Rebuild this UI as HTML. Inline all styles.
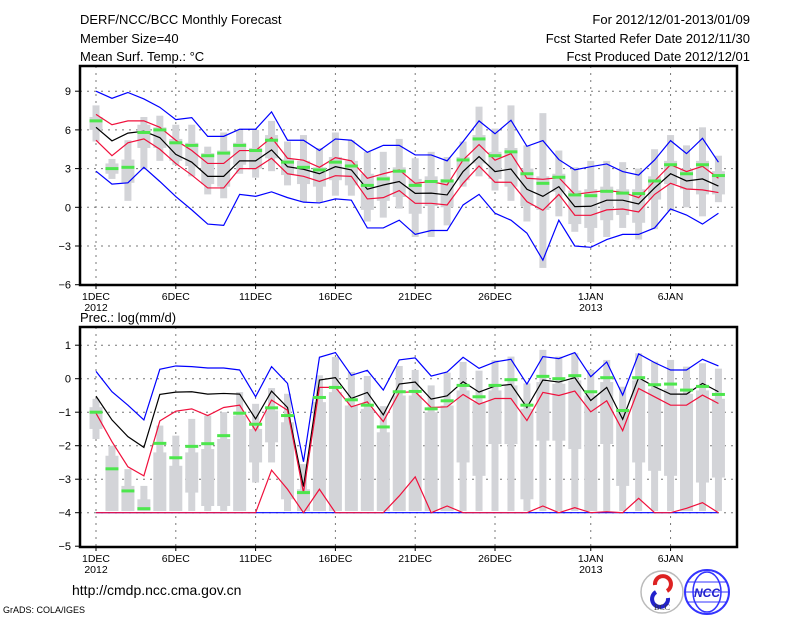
<!DOCTYPE html>
<html><head><meta charset="utf-8">
<style>
html,body{margin:0;padding:0;background:#fff;}
svg{display:block;font-family:"Liberation Sans",sans-serif;}
</style></head>
<body>
<svg id="chart" width="800" height="618" viewBox="0 0 800 618" xmlns="http://www.w3.org/2000/svg">
<rect width="800" height="618" fill="#fff"/>
<g font-size="13" fill="#000">
<text x="80" y="24">DERF/NCC/BCC Monthly Forecast</text>
<text x="80" y="43">Member Size=40</text>
<text x="80" y="61">Mean Surf. Temp.: °C</text>
<text x="750" y="24" text-anchor="end">For 2012/12/01-2013/01/09</text>
<text x="750" y="43" text-anchor="end">Fcst Started Refer Date 2012/11/30</text>
<text x="750" y="61" text-anchor="end">Fcst Produced Date 2012/12/01</text>
<text x="80" y="322">Prec.: log(mm/d)</text>
<text x="72" y="595" font-size="14">http://cmdp.ncc.cma.gov.cn</text>
<text x="3" y="613" font-size="9">GrADS: COLA/IGES</text>
</g>
<g>
<circle cx="662" cy="592" r="21" fill="#fff" stroke="#bbb" stroke-width="1.5"/>
<path d="M655 585 a8 8 0 1 1 12 6" fill="none" stroke="#d22" stroke-width="4"/>
<path d="M668 598 a8 8 0 1 1 -12 -6" fill="none" stroke="#22c" stroke-width="4"/>
<text x="662" y="610" font-size="8" text-anchor="middle" fill="#333" font-family="Liberation Serif,serif">BCC</text>
</g>
<g>
<circle cx="707" cy="592" r="22" fill="#fff" stroke="#33f" stroke-width="2"/>
<ellipse cx="707" cy="592" rx="14" ry="20" fill="none" stroke="#33f" stroke-width="1.5"/>
<line x1="686" y1="592" x2="728" y2="592" stroke="#33f"/>
<line x1="688" y1="582" x2="726" y2="582" stroke="#33f"/>
<line x1="688" y1="602" x2="726" y2="602" stroke="#33f"/>
<text x="707" y="597" font-size="12" font-weight="bold" text-anchor="middle" fill="#22c" font-style="italic">NCC</text>
</g>
<g id="plots"></g>
</svg>
<script>
// ---- Data: days Dec 1 2012 .. Jan 9 2013 ----
const days = [];
for (let i = 0; i < 40; i++) days.push(i);
const xTickDays = [0,5,10,15,20,25,31,36];
const xTickLabels = ["1DEC","6DEC","11DEC","16DEC","21DEC","26DEC","1JAN","6JAN"];
const xTickYears = ["2012","","","","","","2013",""];

// Temperature panel
const tTicks = [9,6,3,0,-3,-6];
const tBlueTop = [9.0,8.45,8.9,8.4,7.75,6.8,6.95,5.5,5.5,6.05,6.05,7.4,5.2,5.2,4.4,5.3,5.2,4.26,4.8,4.8,4.06,4.06,3.6,5.1,6.7,5.7,6.75,4.73,5.17,3.7,2.9,3.15,3.36,2.77,2.5,3.67,5.17,4.16,5.35,3.5];
const tRedTop = [7.2,6.4,6.7,6.7,6.2,5.2,4.4,3.4,3.4,4.4,4.4,5.4,3.8,3.65,3.1,3.85,3.6,2.25,2.6,2.9,1.86,2.0,1.73,3.67,4.86,3.65,4.16,2.25,2.17,2.3,1.0,1.16,1.3,1.16,0.75,2.04,3.3,2.77,3.18,2.25];
const tMean = [6.2,5.15,5.75,5.9,5.4,4.1,3.5,2.4,2.4,3.6,3.6,4.45,3.15,2.95,2.6,3.15,2.9,1.4,1.73,2.0,1.08,1.1,0.96,2.77,3.93,2.77,2.97,1.4,0.85,1.6,0.05,0.08,0.55,0.55,0.26,1.5,2.6,2.04,2.2,1.65];
const tRedBot = [5.2,4.0,5.0,5.3,4.5,3.4,2.5,1.5,1.5,3.0,3.0,3.8,2.6,2.4,2.0,2.45,2.4,0.65,0.75,1.3,0.31,0.31,0.18,1.86,3.2,1.94,1.94,0.44,-0.23,1.0,-0.62,-0.62,-0.2,-0.13,-0.36,1.0,1.86,1.42,1.35,1.14];
const tBlueBot = [2.8,1.8,1.9,3.1,2.0,0.83,-0.2,-1.3,-1.4,1.0,0.85,1.2,0.75,0.4,0.34,0.65,0.55,-1.6,-1.6,-1.0,-2.1,-1.8,-1.8,0.18,1.0,-0.46,-1.0,-2.0,-4.1,-1.0,-3.0,-3.1,-2.5,-2.1,-2.1,-1.6,-0.13,-0.6,-1.3,-0.46];
const tObs = [6.7,3.0,3.1,5.8,6.0,5.0,4.8,4.0,4.2,4.8,4.4,5.2,3.5,3.1,2.9,3.5,3.2,1.7,2.2,2.8,1.7,2.0,2.04,3.67,5.3,4.0,4.3,2.6,1.86,2.33,0.96,0.9,1.24,1.1,1.06,2.04,3.3,2.6,3.3,2.46];
const tMax = [7.9,3.75,5.2,7.0,7.1,6.4,6.4,4.7,5.8,6.0,6.0,6.7,5.1,5.6,4.6,5.8,5.2,4.3,4.3,5.3,3.8,4.3,3.9,5.1,7.8,6.1,7.9,4.8,7.3,4.4,3.1,3.6,3.6,3.5,3.0,4.5,5.6,4.8,6.2,4.0];
const tQ3 = [7.0,3.4,3.7,6.4,6.2,5.3,5.0,4.2,4.4,5.0,4.6,5.6,3.7,3.6,3.1,3.9,3.6,2.6,2.4,3.1,2.2,2.4,2.2,3.9,5.6,4.3,4.6,3.0,2.4,2.6,1.3,1.4,1.6,1.4,1.4,2.4,3.6,3.0,3.6,2.8];
const tQ1 = [6.0,2.6,1.9,4.6,4.6,3.6,3.2,1.8,1.6,3.3,3.0,3.8,2.5,1.8,1.6,2.1,1.7,-0.2,0.5,0.8,-0.5,0.1,0.0,2.1,3.4,2.2,1.6,0.1,-0.2,1.2,-1.3,-1.6,-1.0,-0.6,-1.2,0.6,1.8,1.4,1.0,1.0];
const tMin = [5.1,2.2,0.5,3.0,3.6,3.3,2.4,1.0,0.7,2.6,2.3,2.8,1.7,0.4,0.4,0.9,0.9,-1.1,-0.8,-0.1,-2.3,-2.3,-1.4,1.6,2.4,1.3,0.5,-1.1,-4.7,-0.7,-1.9,-2.7,-2.3,-1.6,-2.5,-1.7,-0.3,-0.0,-0.7,0.4];

// Precipitation panel
const pTicks = [1,0,-1,-2,-3,-4,-5];
const pBlueTop = [0.22,-0.39,-0.79,-1.23,0.28,0.38,0.36,0.32,0.32,0.26,-0.54,0.36,-0.14,-2.48,0.64,0.78,0.1,0.25,-0.34,0.56,0.62,0.08,0.2,0.64,0.31,0.5,0.58,-0.16,0.66,0.6,0.78,0.06,0.5,-0.49,0.74,0.48,0.26,0.26,0.58,0.38];
const pMean = [-0.52,-1.23,-1.73,-2.05,-0.47,-0.4,-0.39,-0.46,-0.44,-0.46,-1.2,-0.37,-0.86,-3.22,-0.04,0.03,-0.59,-0.41,-1.08,-0.16,-0.1,-0.61,-0.51,-0.09,-0.4,-0.22,-0.17,-0.86,-0.04,-0.1,0.03,-0.65,-0.26,-1.21,0.03,-0.24,-0.46,-0.46,-0.14,-0.39];
const pRedTop = [-1.03,-1.88,-2.63,-2.9,-1.26,-0.97,-0.9,-1.1,-0.86,-0.79,-1.55,-0.64,-0.94,-3.4,-0.26,-0.26,-0.84,-0.69,-1.28,-0.41,-0.39,-0.86,-0.84,-0.47,-0.76,-0.59,-0.59,-1.25,-0.41,-0.5,-0.37,-0.99,-0.66,-1.55,-0.29,-0.54,-0.79,-0.79,-0.49,-0.74];
const pRedBot = [-4,-4,-4,-4,-4,-4,-4,-4,-4,-4,-4,-2.73,-3.3,-4,-3.3,-4,-4,-4,-4,-3.5,-2.93,-4,-3.8,-4,-4,-4,-4,-4,-3.8,-4,-3.85,-4,-3.97,-4,-3.57,-4,-4,-3.87,-3.7,-4];
const pBlueBot = [-4,-4,-4,-4,-4,-4,-4,-4,-4,-4,-4,-4,-4,-4,-4,-4,-4,-4,-4,-4,-4,-4,-4,-4,-4,-4,-4,-4,-4,-4,-4,-4,-4,-4,-4,-4,-4,-4,-4,-4];
const pObs = [-1.0,-2.69,-3.35,-3.88,-1.93,-2.36,-2.02,-1.94,-1.7,-1.03,-1.36,-0.87,-1.1,-3.4,-0.56,-0.26,-0.63,-0.79,-1.44,-0.39,-0.38,-0.9,-0.66,-0.2,-0.54,-0.2,-0.03,-0.79,0.07,0.0,0.09,-0.39,0.03,-0.95,0.03,-0.18,-0.16,-0.34,-0.23,-0.47];
const pMax = [-0.6,-2.0,-2.7,-3.2,-1.4,-1.7,-1.2,-1.1,-1.0,-0.4,-0.75,-0.28,-0.45,-2.55,0.1,0.65,0.2,0.08,-0.82,0.38,0.26,-0.2,0.18,0.5,0.24,0.55,0.66,-0.14,0.86,0.66,0.76,0.26,0.56,-0.24,0.76,0.51,0.56,0.36,0.46,0.3];
const pQ3 = [-0.85,-2.3,-3.2,-3.6,-2.2,-2.6,-2.2,-2.1,-1.8,-1.1,-1.5,-0.95,-1.3,-3.3,-0.7,-0.4,-0.8,-0.9,-1.6,-0.5,-0.5,-1.0,-0.8,-0.35,-0.7,-0.35,-0.2,-0.9,-0.1,-0.15,-0.05,-0.5,-0.1,-1.0,-0.05,-0.3,-0.3,-0.45,-0.35,-0.6];
const pQ1 = [-1.5,-3.95,-3.95,-3.95,-3.95,-3.95,-3.4,-3.8,-3.8,-3.95,-2.5,-1.9,-3.6,-3.95,-3.95,-3.95,-3.95,-3.95,-3.95,-3.95,-3.95,-3.95,-3.95,-2.5,-2.9,-1.95,-1.95,-3.6,-1.85,-1.85,-2.1,-3.95,-1.95,-3.2,-2.5,-2.75,-2.9,-3.95,-3.1,-2.95];
const pMin = [-1.8,-3.95,-3.95,-3.95,-3.95,-3.95,-3.95,-3.95,-3.95,-3.95,-3.1,-2.5,-3.95,-3.95,-3.95,-3.95,-3.95,-3.95,-3.95,-3.95,-3.95,-3.95,-3.95,-3.95,-3.95,-3.95,-3.95,-3.95,-3.95,-3.95,-3.95,-3.95,-3.95,-3.95,-3.95,-3.95,-3.95,-3.95,-3.95,-3.95];

// ---- Drawing ----
const NS = "http://www.w3.org/2000/svg";
const root = document.getElementById("plots");
const X0 = 80, X1 = 737;
function xScale(d){ return 96 + d*15.96; }
function mk(tag, attrs, parent){
  const e = document.createElementNS(NS, tag);
  for (const k in attrs) e.setAttribute(k, attrs[k]);
  (parent||root).appendChild(e);
  return e;
}
function drawPanel(cfg){
  const g = mk("g", {});
  
  
  const y = v => cfg.y0 - v*cfg.k;
  // grid
  cfg.ticks.forEach((t,i)=>{
    if (t===cfg.bottomTick) return;
    const gl = mk("line",{x1:X0,x2:X1,y1:y(t),y2:y(t),stroke:"#777","stroke-width":1,"stroke-dasharray":"2,5"},g);
    
    
  });
  xTickDays.forEach(d=>{
    const gl = mk("line",{x1:xScale(d),x2:xScale(d),y1:cfg.top,y2:cfg.bottom,stroke:"#777","stroke-width":1,"stroke-dasharray":"2,5"},g);
    
    
  });
  // boxes
  days.forEach(d=>{
    const x = xScale(d);
    const w = mk("rect",{x:x-3.5,y:y(cfg.max[d]),width:7,height:Math.max(1,y(cfg.min[d])-y(cfg.max[d])),fill:"#d3d4d8"},g);
    
    
    const b = mk("rect",{x:x-6.5,y:y(cfg.q3[d]),width:13,height:Math.max(1,y(cfg.q1[d])-y(cfg.q3[d])),fill:"#d3d4d8"},g);
    
    
  });
  const line = (arr,color,name)=>{
    const p = mk("polyline",{points:days.map(d=>xScale(d)+","+y(arr[d])).join(" "),fill:"none",stroke:color,"stroke-width":1.2},g);
    
    
  };
  line(cfg.blueBot,"#0000ff",cfg.prefix+"-min-line");
  line(cfg.redBot,"#f0103c",cfg.prefix+"-lower-line");
  line(cfg.mean,"#000",cfg.prefix+"-mean-line");
  line(cfg.redTop,"#f0103c",cfg.prefix+"-upper-line");
  line(cfg.blueTop,"#0000ff",cfg.prefix+"-max-line");
  days.forEach(d=>{
    const o = mk("rect",{x:xScale(d)-6.5,y:y(cfg.obs[d])-1.5,width:13,height:3,fill:"#4de64d"},g);
    
    
  });
  // frame
  const f = mk("path",{d:`M${X0} ${cfg.top} L${X1} ${cfg.top} L${X1} ${cfg.bottom} L${X0} ${cfg.bottom} Z`,fill:"none",stroke:"#000","stroke-width":2.5},g);
  
  
  // y ticks
  cfg.ticks.forEach(t=>{
    mk("line",{x1:X0-5,x2:X0,y1:y(t),y2:y(t),stroke:"#000"},g);
    const tx = mk("text",{x:X0-9,y:y(t)+4,"font-size":11,"text-anchor":"end"},g);
    tx.textContent = (t<0?"\u2212"+(-t):t);
    
    
  });
  // x ticks
  xTickDays.forEach((d,i)=>{
    mk("line",{x1:xScale(d),x2:xScale(d),y1:cfg.bottom,y2:cfg.bottom+4,stroke:"#000"},g);
    const tx = mk("text",{x:xScale(d),y:cfg.bottom+15,"font-size":10.5,"text-anchor":"middle"},g);
    tx.textContent = xTickLabels[i];
    
    
    if (xTickYears[i]){
      const ty = mk("text",{x:xScale(d),y:cfg.bottom+26,"font-size":10.5,"text-anchor":"middle"},g);
      ty.textContent = xTickYears[i];
      
      
    }
  });
}
drawPanel({name:"temperature-panel",prefix:"temp",top:66,bottom:285,y0:207.3,k:12.9,ticks:tTicks,bottomTick:-6,
  blueTop:tBlueTop,redTop:tRedTop,mean:tMean,redBot:tRedBot,blueBot:tBlueBot,obs:tObs,max:tMax,q3:tQ3,q1:tQ1,min:tMin});
drawPanel({name:"precipitation-panel",prefix:"prec",top:327,bottom:547,y0:378.7,k:33.5,ticks:pTicks,bottomTick:-5,
  blueTop:pBlueTop,redTop:pRedTop,mean:pMean,redBot:pRedBot,blueBot:pBlueBot,obs:pObs,max:pMax,q3:pQ3,q1:pQ1,min:pMin});
</script>
</body></html>
